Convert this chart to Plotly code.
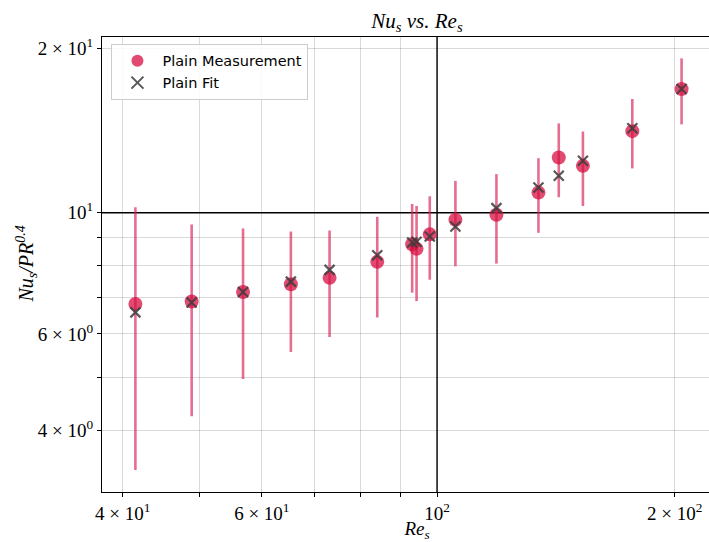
import numpy as np
import plotly.graph_objects as go

# ---- data ----
re_s = [41.5, 48.9, 56.8, 65.3, 73.1, 84.0, 93.0, 94.2, 97.9, 105.5, 118.9, 134.4, 142.6, 153.0, 176.7, 204.0]
nu_meas = [6.81, 6.88, 7.16, 7.40, 7.60, 8.13, 8.76, 8.59, 9.13, 9.71, 9.92, 10.89, 12.63, 12.19, 14.11, 16.85]
nu_err = [3.43, 2.64, 2.20, 1.84, 1.68, 1.70, 1.62, 1.70, 1.59, 1.73, 1.85, 1.70, 1.95, 1.90, 2.05, 2.33]
nu_fit = [6.57, 6.85, 7.16, 7.48, 7.86, 8.36, 8.82, 8.85, 9.05, 9.44, 10.20, 11.13, 11.69, 12.45, 14.29, 16.85]

x_tickvals = [40, 50, 60, 70, 80, 90, 100, 200]
x_ticktext = ["4 × 10<sup>1</sup>", "", "6 × 10<sup>1</sup>", "", "", "", "10<sup>2</sup>", "2 × 10<sup>2</sup>"]
y_tickvals = [4, 5, 6, 7, 8, 9, 10, 20]
y_ticktext = ["4 × 10<sup>0</sup>", "", "6 × 10<sup>0</sup>", "", "", "", "10<sup>1</sup>", "2 × 10<sup>1</sup>"]

x_range = [37.65, 236.3]
y_range = [3.08, 20.99]

serif = "Liberation Serif, DejaVu Serif, serif"
sans = "DejaVu Sans, Lato, sans-serif"

fig = go.Figure()
fig.add_trace(go.Scatter(
    x=re_s, y=nu_meas, mode="markers", name="Plain Measurement",
    marker=dict(symbol="circle", size=14, color="rgba(215,15,65,0.75)", line=dict(width=0)),
    error_y=dict(type="data", array=nu_err, visible=True, color="rgba(215,30,85,0.65)",
                 thickness=2.6, width=0),
))
fig.add_trace(go.Scatter(
    x=re_s, y=nu_fit, mode="markers", name="Plain Fit",
    marker=dict(symbol="x-thin", size=10, color="rgba(60,60,60,0.85)",
                line=dict(width=2.2, color="rgba(60,60,60,0.85)")),
))

grid = "rgba(0,0,0,0.15)"
axis_common = dict(
    type="log", showline=True, linecolor="black", linewidth=1.2, mirror=True,
    ticks="outside", ticklen=4, tickwidth=1, tickcolor="black",
    showgrid=True, gridcolor=grid, gridwidth=1.2, zeroline=False, automargin=False,
    tickfont=dict(family=serif, size=19, color="black"),
)

fig.update_xaxes(
    **axis_common, range=[np.log10(x_range[0]), np.log10(x_range[1])],
    tickvals=x_tickvals, ticktext=x_ticktext,
    title=dict(text="<i>Re<sub>s</sub></i>", font=dict(family=serif, size=19, color="black"), standoff=0),
)
fig.update_yaxes(
    **axis_common, range=[np.log10(y_range[0]), np.log10(y_range[1])],
    tickvals=y_tickvals, ticktext=y_ticktext,
)

# y-axis title placed as a rotated annotation
fig.add_annotation(text="<i>Nu<sub>s</sub>/PR<sup>0.4</sup></i>", xref="paper", yref="paper",
                   x=0, y=0.5, xanchor="center", yanchor="middle", xshift=-76, textangle=-90,
                   showarrow=False, font=dict(family=serif, size=20, color="black"))

# major (decade) grid lines drawn in black
fig.add_shape(type="line", xref="x", yref="paper", x0=100, x1=100, y0=0, y1=1,
              line=dict(color="black", width=1.4), layer="below")
fig.add_shape(type="line", xref="paper", yref="y", x0=0, x1=1, y0=10, y1=10,
              line=dict(color="black", width=1.4), layer="below")

fig.update_layout(
    width=735, height=542,
    margin=dict(l=102, r=3, t=37, b=50, autoexpand=False),
    plot_bgcolor="white", paper_bgcolor="white",
    title=dict(text="<i>Nu<sub>s</sub> vs. Re<sub>s</sub></i>", xref="paper", x=0.5, xanchor="center",
               y=0.962, yanchor="middle", font=dict(family=serif, size=21, color="black")),
    legend=dict(x=0.015, y=0.985, xanchor="left", yanchor="top",
                bgcolor="rgba(255,255,255,0.85)", bordercolor="#cccccc", borderwidth=1,
                font=dict(family=sans, size=14.5, color="black"), itemsizing="constant",
                itemwidth=40),
    showlegend=True,
)

fig.write_html("out.html", config={"displayModeBar": False},
               post_script="document.body.style.margin='0';document.body.style.overflow='hidden';")
